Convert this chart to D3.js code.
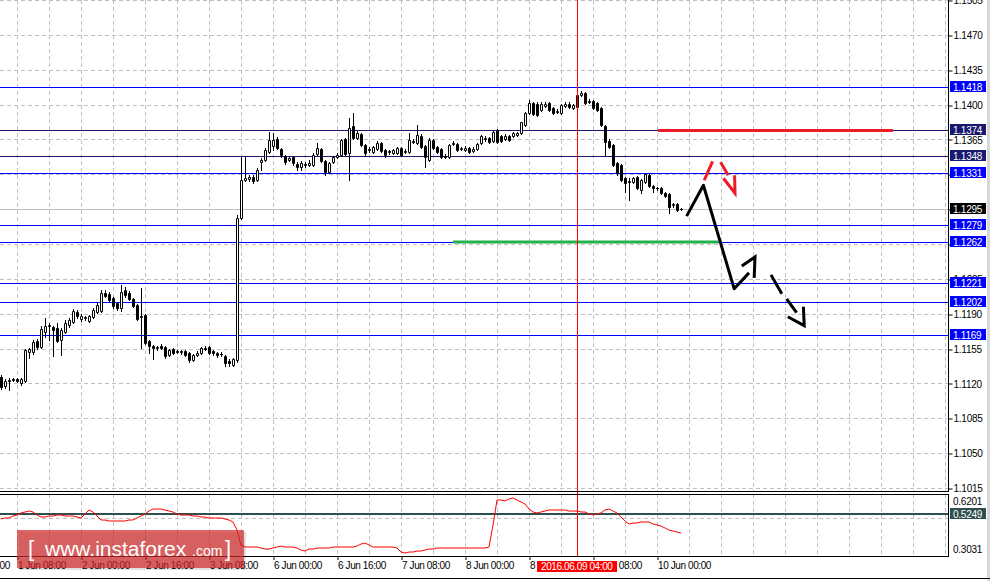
<!DOCTYPE html>
<html>
<head>
<meta charset="utf-8">
<script src="https://cdn.jsdelivr.net/npm/d3@7/dist/d3.min.js"></script>
<style>
  body { margin: 0; background: #fff; }
  svg { display: block; }
  text { font-family: "Liberation Sans", Arial, sans-serif; }
</style>
</head>
<body>
<div id="chart"></div>
<script>
// EURUSD H1, bar 0 = 1 Jun 04:00, last bar = 10 Jun 06:00  [open, high, low, close]
const ohlc = [
  [1.1126,1.1128,1.1114,1.1116],[1.1117,1.1124,1.1115,1.1122],[1.1123,1.1125,1.1113,1.1122],[1.1124,1.1125,1.1122,1.1123],
  [1.1124,1.1125,1.1121,1.1122],[1.1120,1.1125,1.1118,1.1124],[1.1122,1.1155,1.1121,1.1154],[1.1152,1.1156,1.1146,1.1155],
  [1.1152,1.1164,1.1150,1.1162],[1.1163,1.1165,1.1155,1.1157],[1.1157,1.1178,1.1156,1.1175],[1.1172,1.1186,1.1167,1.1178],
  [1.1178,1.1181,1.1164,1.1179],[1.1177,1.1178,1.1148,1.1174],[1.1176,1.1181,1.1162,1.1163],[1.1164,1.1176,1.1149,1.1174],
  [1.1172,1.1184,1.1171,1.1181],[1.1179,1.1186,1.1177,1.1184],[1.1182,1.1195,1.1181,1.1193],[1.1192,1.1194,1.1186,1.1188],
  [1.1185,1.1190,1.1183,1.1188],[1.1186,1.1188,1.1184,1.1187],[1.1183,1.1189,1.1182,1.1188],[1.1187,1.1196,1.1186,1.1194],
  [1.1192,1.1201,1.1191,1.1199],[1.1193,1.1214,1.1192,1.1211],[1.1211,1.1214,1.1207,1.1208],[1.1210,1.1212,1.1203,1.1204],
  [1.1206,1.1207,1.1196,1.1198],[1.1201,1.1202,1.1194,1.1196],[1.1196,1.1219,1.1193,1.1212],[1.1214,1.1217,1.1207,1.1209],
  [1.1211,1.1213,1.1204,1.1205],[1.1205,1.1206,1.1197,1.1198],[1.1199,1.1200,1.1184,1.1185],[1.1187,1.1216,1.1156,1.1188],
  [1.1189,1.1190,1.1160,1.1161],[1.1163,1.1164,1.1151,1.1158],[1.1158,1.1159,1.1145,1.1156],[1.1156,1.1158,1.1154,1.1157],
  [1.1158,1.1160,1.1155,1.1156],[1.1157,1.1158,1.1146,1.1148],[1.1149,1.1155,1.1148,1.1154],[1.1155,1.1156,1.1150,1.1151],
  [1.1153,1.1154,1.1151,1.1152],[1.1152,1.1154,1.1150,1.1153],[1.1153,1.1154,1.1148,1.1149],[1.1151,1.1152,1.1142,1.1144],
  [1.1144,1.1150,1.1143,1.1149],[1.1149,1.1153,1.1148,1.1151],[1.1151,1.1157,1.1150,1.1156],[1.1156,1.1158,1.1154,1.1155],
  [1.1157,1.1158,1.1150,1.1151],[1.1153,1.1154,1.1149,1.1151],[1.1151,1.1152,1.1147,1.1149],[1.1150,1.1152,1.1148,1.1150],
  [1.1148,1.1149,1.1138,1.1141],[1.1143,1.1145,1.1137,1.1141],[1.1139,1.1146,1.1138,1.1145],[1.1144,1.1289,1.1142,1.1286],
  [1.1286,1.1347,1.1285,1.1324],[1.1324,1.1347,1.1323,1.1326],[1.1325,1.1329,1.1323,1.1327],[1.1327,1.1329,1.1321,1.1323],
  [1.1324,1.1336,1.1323,1.1334],[1.1342,1.1346,1.1334,1.1344],[1.1344,1.1356,1.1343,1.1354],[1.1352,1.1372,1.1351,1.1364],
  [1.1358,1.1371,1.1354,1.1364],[1.1365,1.1367,1.1355,1.1356],[1.1355,1.1356,1.1347,1.1349],[1.1348,1.1349,1.1340,1.1342],
  [1.1344,1.1348,1.1343,1.1346],[1.1347,1.1348,1.1339,1.1341],[1.1340,1.1342,1.1334,1.1337],[1.1337,1.1343,1.1334,1.1341],
  [1.1339,1.1342,1.1337,1.1340],[1.1339,1.1344,1.1338,1.1341],[1.1339,1.1351,1.1338,1.1349],[1.1350,1.1361,1.1349,1.1356],
  [1.1355,1.1356,1.1342,1.1343],[1.1343,1.1344,1.1329,1.1332],[1.1332,1.1342,1.1331,1.1341],[1.1342,1.1348,1.1341,1.1347],
  [1.1347,1.1351,1.1346,1.1349],[1.1349,1.1365,1.1348,1.1364],[1.1365,1.1366,1.1349,1.1350],[1.1351,1.1387,1.1324,1.1376],
  [1.1378,1.1392,1.1365,1.1366],[1.1366,1.1373,1.1365,1.1371],[1.1370,1.1371,1.1358,1.1359],[1.1359,1.1360,1.1349,1.1351],
  [1.1354,1.1357,1.1352,1.1355],[1.1352,1.1358,1.1351,1.1357],[1.1355,1.1363,1.1354,1.1361],[1.1361,1.1362,1.1352,1.1353],
  [1.1354,1.1355,1.1347,1.1349],[1.1352,1.1354,1.1350,1.1353],[1.1351,1.1355,1.1350,1.1354],[1.1351,1.1357,1.1350,1.1356],
  [1.1356,1.1357,1.1348,1.1349],[1.1352,1.1355,1.1351,1.1353],[1.1352,1.1371,1.1351,1.1364],[1.1363,1.1365,1.1361,1.1362],
  [1.1361,1.1379,1.1360,1.1369],[1.1368,1.1370,1.1356,1.1357],[1.1358,1.1359,1.1337,1.1347],[1.1344,1.1366,1.1343,1.1364],
  [1.1364,1.1365,1.1355,1.1356],[1.1357,1.1358,1.1351,1.1352],[1.1355,1.1356,1.1346,1.1347],[1.1348,1.1350,1.1346,1.1347],
  [1.1347,1.1360,1.1346,1.1359],[1.1360,1.1363,1.1359,1.1361],[1.1360,1.1361,1.1353,1.1354],[1.1355,1.1357,1.1354,1.1356],
  [1.1354,1.1358,1.1353,1.1356],[1.1356,1.1357,1.1351,1.1352],[1.1353,1.1357,1.1352,1.1355],[1.1355,1.1361,1.1354,1.1360],
  [1.1361,1.1369,1.1360,1.1368],[1.1365,1.1368,1.1363,1.1366],[1.1366,1.1367,1.1361,1.1362],[1.1363,1.1373,1.1362,1.1372],
  [1.1374,1.1375,1.1361,1.1362],[1.1368,1.1369,1.1362,1.1363],[1.1365,1.1370,1.1364,1.1368],[1.1368,1.1369,1.1363,1.1364],
  [1.1368,1.1372,1.1367,1.1371],[1.1369,1.1372,1.1368,1.1371],[1.1371,1.1383,1.1370,1.1382],[1.1379,1.1393,1.1378,1.1392],
  [1.1392,1.1405,1.1391,1.1402],[1.1402,1.1403,1.1390,1.1391],[1.1401,1.1403,1.1389,1.1390],[1.1395,1.1403,1.1394,1.1401],
  [1.1399,1.1403,1.1398,1.1401],[1.1402,1.1403,1.1394,1.1395],[1.1397,1.1398,1.1391,1.1392],[1.1393,1.1396,1.1392,1.1394],
  [1.1392,1.1401,1.1391,1.1400],[1.1399,1.1403,1.1398,1.1401],[1.1401,1.1403,1.1397,1.1398],[1.1397,1.1401,1.1396,1.1400],
  [1.1398,1.1412,1.1396,1.1410],[1.1410,1.1414,1.1409,1.1412],[1.1412,1.1413,1.1401,1.1402],[1.1404,1.1406,1.1402,1.1403],
  [1.1404,1.1405,1.1396,1.1397],[1.1402,1.1403,1.1394,1.1395],[1.1397,1.1398,1.1378,1.1379],[1.1378,1.1379,1.1349,1.1362],
  [1.1363,1.1365,1.1356,1.1357],[1.1359,1.1360,1.1338,1.1339],[1.1341,1.1342,1.1329,1.1331],[1.1339,1.1340,1.1323,1.1324],
  [1.1326,1.1327,1.1312,1.1321],[1.1323,1.1326,1.1304,1.1322],[1.1322,1.1327,1.1321,1.1326],[1.1327,1.1328,1.1315,1.1316],
  [1.1314,1.1325,1.1311,1.1324],[1.1322,1.1331,1.1321,1.1330],[1.1329,1.1330,1.1317,1.1318],[1.1318,1.1319,1.1312,1.1316],
  [1.1316,1.1317,1.1314,1.1316],[1.1316,1.1317,1.1310,1.1311],[1.1311,1.1312,1.1307,1.1308],[1.1310,1.1311,1.1291,1.1297],
  [1.1300,1.1301,1.1297,1.1299],[1.1300,1.1301,1.1293,1.1294],[1.1295,1.1296,1.1294,1.1295]
];

// oscillator in the lower window, one value per bar
const oscillator = [
  0.4962,0.5016,0.5016,0.5124,0.5179, 0.5287,0.5341,0.5395,0.5341,0.5179,
  0.5070,0.5070,0.5124,0.5124,0.5179, 0.5179,0.5124,0.5124,0.5124,0.5070,
  0.5016,0.5233,0.5449,0.5341,0.5124, 0.4908,0.4908,0.4854,0.4854,0.4854,
  0.4854,0.4854,0.4908,0.4908,0.5016, 0.5124,0.5233,0.5395,0.5503,0.5503,
  0.5503,0.5449,0.5395,0.5341,0.5233, 0.5179,0.5179,0.5179,0.5124,0.5124,
  0.5070,0.5070,0.5016,0.5016,0.5016, 0.5016,0.4962,0.4908,0.4800,0.4366,
  0.3554,0.3446,0.3446,0.3446,0.3446, 0.3392,0.3338,0.3338,0.3392,0.3446,
  0.3500,0.3446,0.3446,0.3446,0.3392, 0.3284,0.3229,0.3338,0.3338,0.3392,
  0.3392,0.3392,0.3392,0.3446,0.3446, 0.3446,0.3446,0.3446,0.3446,0.3500,
  0.3608,0.3663,0.3554,0.3446,0.3446, 0.3446,0.3446,0.3446,0.3446,0.3392,
  0.3175,0.3121,0.3175,0.3175,0.3229, 0.3229,0.3284,0.3338,0.3338,0.3392,
  0.3392,0.3392,0.3392,0.3392,0.3392, 0.3392,0.3392,0.3392,0.3392,0.3392,
  0.3392,0.3392,0.3446,0.4637,0.5991, 0.5991,0.5937,0.6045,0.6099,0.5991,
  0.5882,0.5774,0.5503,0.5341,0.5287, 0.5341,0.5395,0.5449,0.5449,0.5449,
  0.5449,0.5449,0.5395,0.5395,0.5395, 0.5341,0.5341,0.5233,0.5179,0.5233,
  0.5287,0.5449,0.5503,0.5395,0.5287, 0.5070,0.4854,0.4691,0.4745,0.4745,
  0.4800,0.4800,0.4800,0.4691,0.4637, 0.4583,0.4475,0.4366,0.4312,0.4258,
  0.4204
];
const oscMax = 0.6201, oscMin = 0.3031, oscLevel = 0.5249;

const priceTicks = [1.1505,1.1470,1.1435,1.1400,1.1365,1.1330,1.1295,1.1260,1.1225,1.1190,1.1155,1.1120,1.1085,1.1050,1.1015];
const blueLevels = [1.1418, 1.1331, 1.1279, 1.1262, 1.1221, 1.1202, 1.1169];
const navyLevels = [1.1374, 1.1348];

const timeTickBars = [-12, 4, 20, 36, 52, 68, 84, 100, 116, 132, 148, 164];
const timeTickLabels = ["31 May 16:00","1 Jun 08:00","2 Jun 00:00","2 Jun 16:00","3 Jun 08:00","6 Jun 00:00",
                        "6 Jun 16:00","7 Jun 08:00","8 Jun 00:00","8 Jun 16:00","9 Jun 08:00","10 Jun 00:00"];
const cursorBar = 144, cursorLabel = "2016.06.09 04:00";

// hand drawn forecast, points as [bar, price]
const resistanceSeg = [[164.25, 1.1374], [223, 1.1374]];
const supportSeg = [[113, 1.1262], [179.25, 1.1262]];
const mainPath = [[171.4, 1.1288], [175.6, 1.1319], [183.3, 1.1215], [187.0, 1.1231]];
const mainHead = [[185.2, 1.1238], [188.5, 1.1247], [188.3, 1.1226]];
const nextDashes = [[[192.5, 1.1229], [195.2, 1.1210]], [[196.4, 1.1205], [198.9, 1.1191]]];
const nextHead = [[196.7, 1.1187], [200.8, 1.1178], [200.6, 1.1197]];
const altDashes = [[[175.8, 1.1324], [177.9, 1.1343]], [[179.9, 1.1342], [181.8, 1.1329]]];
const altHead = [[180.6, 1.1326], [183.5, 1.1311], [183.4, 1.1329]];

const W = 994, H = 581;
const plotRight = 948, mainBottom = 491, indTop = 494, indBottom = 556;

const svg = d3.select("#chart").append("svg")
    .attr("width", W)
    .attr("height", H);

svg.append("rect").attr("width", W).attr("height", H).attr("fill", "#fff");

// 4 px per hourly bar
const x = d3.scaleLinear().domain([0, 1]).range([1, 5]);
const y = d3.scaleLinear().domain([1.1015, 1.1505]).range([488, 0]);
const yOsc = d3.scaleLinear().domain([oscMin, oscMax]).range([554.7, 496.1]);
const crisp = v => Math.round(v) + 0.5;
const fmt4 = d3.format(".4f");

const defs = svg.append("defs");
defs.append("clipPath").attr("id", "clipMain")
  .append("rect").attr("width", plotRight).attr("height", mainBottom);
defs.append("clipPath").attr("id", "clipOsc")
  .append("rect").attr("y", indTop).attr("width", plotRight).attr("height", indBottom - indTop);

const main = svg.append("g").attr("clip-path", "url(#clipMain)");
const osc = svg.append("g").attr("clip-path", "url(#clipOsc)");

// grid
const gridBars = d3.range(4, 240, 8);
[[main, 0, mainBottom], [osc, indTop, indBottom]].forEach(([g, y0, y1]) => {
  g.selectAll(null).data(gridBars).join("line")
    .attr("x1", d => crisp(x(d))).attr("x2", d => crisp(x(d)))
    .attr("y1", y0).attr("y2", y1)
    .attr("stroke", "#c0c0c0").attr("stroke-dasharray", "4,3");
});
main.selectAll(null).data(priceTicks).join("line")
  .attr("x1", 0).attr("x2", plotRight)
  .attr("y1", d => crisp(y(d))).attr("y2", d => crisp(y(d)))
  .attr("stroke", "#c0c0c0").attr("stroke-dasharray", "4,3");
osc.append("line")
  .attr("x1", 0).attr("x2", plotRight)
  .attr("y1", crisp(yOsc(0.5))).attr("y2", crisp(yOsc(0.5)))
  .attr("stroke", "#c0c0c0").attr("stroke-dasharray", "4,3");

// horizontal levels
const lastClose = ohlc[ohlc.length - 1][3];
main.append("line")
  .attr("x1", 0).attr("x2", plotRight)
  .attr("y1", crisp(y(lastClose))).attr("y2", crisp(y(lastClose)))
  .attr("stroke", "#c0c0c0");
main.selectAll(null).data(blueLevels).join("line")
  .attr("x1", 0).attr("x2", plotRight)
  .attr("y1", d => crisp(y(d))).attr("y2", d => crisp(y(d)))
  .attr("stroke", "#0000ff");
main.selectAll(null).data(navyLevels).join("line")
  .attr("x1", 0).attr("x2", plotRight)
  .attr("y1", d => crisp(y(d))).attr("y2", d => crisp(y(d)))
  .attr("stroke", "#191970");

const seg = d3.line().x(d => x(d[0])).y(d => y(d[1]));

main.append("path").attr("d", seg(resistanceSeg))
  .attr("stroke", "#ed1c24").attr("stroke-width", 3).attr("fill", "none");
main.append("path").attr("d", seg(supportSeg))
  .attr("stroke", "#22b14c").attr("stroke-width", 3).attr("fill", "none");

// candles
const bars = ohlc.map((d, i) => ({ i, o: d[0], h: d[1], l: d[2], c: d[3] }));
main.selectAll("line.wick").data(bars).join("line")
  .attr("class", "wick")
  .attr("x1", d => crisp(x(d.i))).attr("x2", d => crisp(x(d.i)))
  .attr("y1", d => Math.round(y(d.h)))
  .attr("y2", d => Math.round(y(d.l)) + 1)
  .attr("stroke", "#000");
main.selectAll("path.body").data(bars).join("path")
  .attr("class", "body")
  .attr("d", d => {
    const cx = Math.round(x(d.i));
    const top = Math.round(y(Math.max(d.o, d.c)));
    const bot = Math.round(y(Math.min(d.o, d.c)));
    if (bot - top < 1) return `M${cx - 1},${top + 0.5}h3`;
    return `M${cx - 0.5},${top + 0.5}h2v${bot - top}h-2Z`;
  })
  .attr("fill", d => d.c > d.o ? "#fff" : "#000")
  .attr("stroke", "#000");

// forecast arrows
main.append("path").attr("d", seg(mainPath))
  .attr("stroke", "#000").attr("stroke-width", 3).attr("fill", "none").attr("stroke-linejoin", "round");
main.append("path").attr("d", seg(mainHead))
  .attr("stroke", "#000").attr("stroke-width", 3).attr("fill", "none");
main.selectAll(null).data(nextDashes).join("path").attr("d", seg)
  .attr("stroke", "#000").attr("stroke-width", 3).attr("fill", "none");
main.append("path").attr("d", seg(nextHead))
  .attr("stroke", "#000").attr("stroke-width", 3).attr("fill", "none");
main.selectAll(null).data(altDashes).join("path").attr("d", seg)
  .attr("stroke", "#ed1c24").attr("stroke-width", 3).attr("fill", "none");
main.append("path").attr("d", seg(altHead))
  .attr("stroke", "#ed1c24").attr("stroke-width", 3).attr("fill", "none");

// oscillator window
osc.append("line")
  .attr("x1", 0).attr("x2", plotRight)
  .attr("y1", Math.round(yOsc(oscLevel))).attr("y2", Math.round(yOsc(oscLevel)))
  .attr("stroke", "#2f4f4f").attr("stroke-width", 2);
osc.append("path")
  .datum(oscillator)
  .attr("d", d3.line().x((d, i) => x(i)).y(d => yOsc(d)))
  .attr("fill", "none").attr("stroke", "#ff0000");

// cursor line
svg.append("line")
  .attr("x1", crisp(x(cursorBar))).attr("x2", crisp(x(cursorBar)))
  .attr("y1", 0).attr("y2", indBottom)
  .attr("stroke", "#ff0000");

// frames
const frame = svg.append("g").attr("stroke", "#000").attr("fill", "none");
frame.append("line").attr("x1", plotRight + 0.5).attr("x2", plotRight + 0.5).attr("y1", 0).attr("y2", mainBottom);
frame.append("line").attr("x1", 0).attr("x2", plotRight + 1).attr("y1", mainBottom + 0.5).attr("y2", mainBottom + 0.5);
frame.append("line").attr("x1", 0).attr("x2", plotRight + 1).attr("y1", indTop + 0.5).attr("y2", indTop + 0.5);
frame.append("line").attr("x1", plotRight + 0.5).attr("x2", plotRight + 0.5).attr("y1", indTop).attr("y2", indBottom);
frame.append("line").attr("x1", 0).attr("x2", plotRight + 1).attr("y1", indBottom + 0.5).attr("y2", indBottom + 0.5);

// price axis; tick labels sitting under a level tag are not shown (as in the terminal)
const tagPrices = blueLevels.concat(navyLevels, [lastClose]);
const yAxis = svg.append("g")
  .attr("transform", `translate(${plotRight + 0.5},0.5)`)
  .call(d3.axisRight(y).tickValues(priceTicks).tickFormat(fmt4).tickSize(4).tickPadding(1));
yAxis.select(".domain").remove();
yAxis.selectAll("line").attr("transform", d => `translate(0,${Math.round(y(d)) - y(d)})`);
yAxis.selectAll("text")
  .attr("font-family", "Liberation Sans, Arial, sans-serif")
  .attr("font-size", 10).attr("letter-spacing", -0.25).attr("fill", "#000")
  .filter(d => tagPrices.some(p => Math.abs(y(p) - y(d)) < 3)).remove();

// level tags on the price axis
function tag(value, yPos, bg) {
  const yc = Math.round(yPos);
  svg.append("rect").attr("x", plotRight + 2).attr("y", yc - 6).attr("width", 36).attr("height", 11).attr("fill", bg);
  svg.append("text").attr("x", plotRight + 5).attr("y", yc + 3.5)
    .attr("font-size", 10).attr("letter-spacing", -0.25).attr("fill", "#fff").text(fmt4(value));
}
blueLevels.forEach(v => tag(v, y(v), "#0000ff"));
navyLevels.forEach(v => tag(v, y(v), "#191970"));
tag(lastClose, y(lastClose), "#000");

// oscillator axis
const oscText = svg.append("g").attr("font-size", 10).attr("letter-spacing", -0.25).attr("fill", "#000");
oscText.append("text").attr("x", plotRight + 5).attr("y", yOsc(oscMax) + 8.5).text(fmt4(oscMax));
oscText.append("text").attr("x", plotRight + 5).attr("y", yOsc(oscMin) - 2).text(fmt4(oscMin));
tag(oscLevel, yOsc(oscLevel), "#2f4f4f");

// time axis
const xAxis = svg.append("g")
  .attr("transform", `translate(0.5,${indBottom})`)
  .call(d3.axisBottom(x).tickValues(timeTickBars).tickFormat((d, i) => timeTickLabels[i]).tickSize(4).tickPadding(1));
xAxis.select(".domain").remove();
xAxis.selectAll("line").attr("transform", d => `translate(${Math.round(x(d)) - x(d)},0)`).attr("stroke", "#000");
xAxis.selectAll("text")
  .attr("text-anchor", "start").attr("dy", null).attr("y", 13)
  .attr("font-family", "Liberation Sans, Arial, sans-serif")
  .attr("font-size", 10).attr("letter-spacing", -0.4).attr("fill", "#000");

const cx = Math.round(x(cursorBar));
svg.append("rect").attr("x", cx - 40).attr("y", 561).attr("width", 80).attr("height", 11).attr("fill", "#ff0000");
svg.append("text").attr("x", cx - 36).attr("y", 570)
  .attr("font-size", 10).attr("letter-spacing", -0.4).attr("fill", "#fff").text(cursorLabel);

// window edges
svg.append("rect").attr("x", 987).attr("y", 0).attr("width", 3).attr("height", H).attr("fill", "#d8d8d8");
svg.append("line").attr("x1", 0).attr("x2", 990).attr("y1", 578.5).attr("y2", 578.5).attr("stroke", "#000");

// watermark
const logo = svg.append("g");
logo.append("rect").attr("x", 19).attr("y", 532).attr("width", 227).attr("height", 38).attr("fill", "rgba(0,0,0,0.12)");
logo.append("rect").attr("x", 17).attr("y", 530).attr("width", 227).attr("height", 38).attr("fill", "rgba(210,40,40,0.7)");
const lt = logo.append("text").attr("y", 556).attr("fill", "#fff");
lt.append("tspan").attr("x", 28).attr("font-size", 22).text("[");
lt.append("tspan").attr("x", 45).attr("font-size", 21).text("www.instaforex");
lt.append("tspan").attr("x", 192).attr("font-size", 14).text(".com");
lt.append("tspan").attr("x", 225).attr("font-size", 22).text("]");
</script>
</body>
</html>
